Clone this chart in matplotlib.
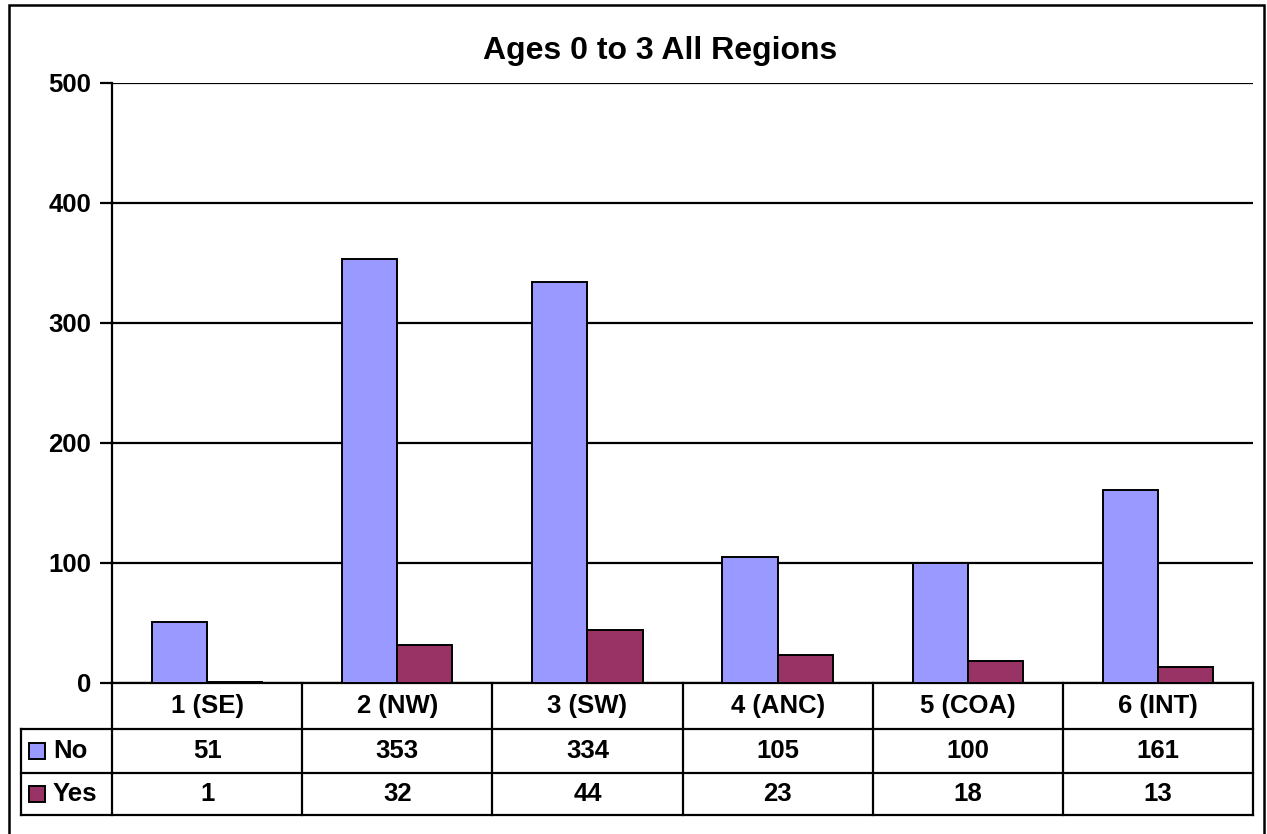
import matplotlib
matplotlib.use("Agg")
import matplotlib.pyplot as plt
from matplotlib.patches import Rectangle
from matplotlib.transforms import blended_transform_factory

categories = ["1 (SE)", "2 (NW)", "3 (SW)", "4 (ANC)", "5 (COA)", "6 (INT)"]
no_vals = [51, 353, 334, 105, 100, 161]
yes_vals = [1, 32, 44, 23, 18, 13]
series_names = ["No", "Yes"]
colors = ["#9999FF", "#993366"]
yticks = [0, 100, 200, 300, 400, 500]
title = "Ages 0 to 3 All Regions"

W, H = 1267, 834
fig = plt.figure(figsize=(W / 100, H / 100), dpi=100)
plt.rcParams['font.family'] = ['Liberation Sans', 'DejaVu Sans']

def fx(px):
    return px / W

def fy(py):
    return 1 - py / H

# outer frame
fig.patches.append(Rectangle((fx(9), fy(840)), fx(1264) - fx(9), fy(5) - fy(840),
                             transform=fig.transFigure, fill=False, lw=1.8, ec="black"))

left, right, top, bottom = 112, 1253, 83, 683
ax = fig.add_axes([fx(left), fy(bottom), fx(right) - fx(left), fy(top) - fy(bottom)])

n = len(categories)
x = list(range(n))
bw = 0.29
ax.bar([i - bw / 2 for i in x], no_vals, width=bw, color=colors[0], edgecolor="black", lw=1.4, zorder=3)
ax.bar([i + bw / 2 for i in x], yes_vals, width=bw, color=colors[1], edgecolor="black", lw=1.4, zorder=3)

lw = 1.6
ax.set_xlim(-0.5, n - 0.5)
ax.set_ylim(0, 500)
ax.set_yticks(yticks)
ax.set_yticklabels([str(t) for t in yticks], fontsize=18.5, fontweight="bold")
ax.tick_params(axis="y", length=9, width=lw, pad=6)
ax.set_xticks([])
ax.grid(axis="y", color="black", lw=lw, zorder=0)
for s in ["top", "right"]:
    ax.spines[s].set_visible(False)
ax.spines["left"].set_linewidth(lw)
ax.spines["bottom"].set_linewidth(lw)

fig.text(fx(660), fy(51), title, ha="center", va="center", fontsize=23, fontweight="bold")

# data table
ph = bottom - top
rows = [683, 729, 773, 815]

def ay(py):
    return (bottom - py) / ph

tr = blended_transform_factory(ax.transData, ax.transAxes)
tra = ax.transAxes
leg_left_ax = (21 - left) / (right - left)
for r in rows[1:]:
    ax.plot([leg_left_ax, 1], [ay(r), ay(r)], color="black", lw=lw, transform=tra, clip_on=False)
for b in [i - 0.5 for i in range(n + 1)]:
    ax.plot([b, b], [ay(rows[0]), ay(rows[-1])], color="black", lw=lw, transform=tr, clip_on=False)
ax.plot([leg_left_ax, leg_left_ax], [ay(rows[1]), ay(rows[-1])], color="black", lw=lw,
        transform=tra, clip_on=False)

fs = 18.5
for i, c in enumerate(categories):
    ax.text(i, ay((rows[0] + rows[1]) / 2), c, transform=tr, ha="center", va="center",
            fontsize=fs, fontweight="bold")
for j, vals in enumerate([no_vals, yes_vals]):
    yc = ay((rows[j + 1] + rows[j + 2]) / 2)
    for i, v in enumerate(vals):
        ax.text(i, yc, str(v), transform=tr, ha="center", va="center", fontsize=fs, fontweight="bold")
    sq = 16
    ax.add_patch(Rectangle(((29 - left) / (right - left), yc - (sq / 2) / ph), sq / (right - left), sq / ph,
                           transform=tra, facecolor=colors[j], edgecolor="black", lw=1.4, clip_on=False))
    ax.text((53 - left) / (right - left), yc, series_names[j], transform=tra, ha="left", va="center",
            fontsize=fs, fontweight="bold")

fig.savefig("out.png", dpi=100)
